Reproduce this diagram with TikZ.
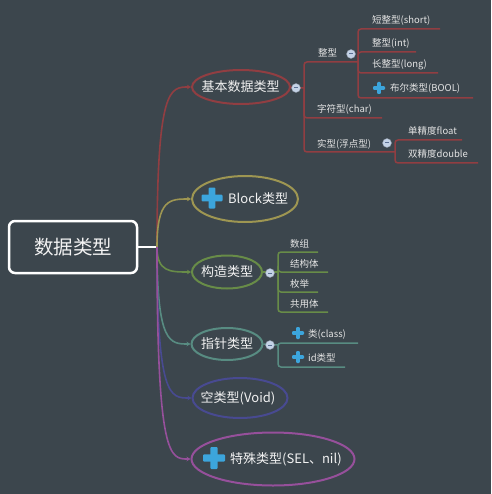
\documentclass[tikz,border=0pt]{standalone}
\usepackage{fontspec}
\setmainfont{Noto Sans CJK SC}
\usetikzlibrary{shapes.geometric,arrows.meta}
\definecolor{bg}{RGB}{60,70,77}
\definecolor{cred}{RGB}{145,62,66}
\definecolor{colive}{RGB}{158,150,82}
\definecolor{cgreen}{RGB}{104,140,72}
\definecolor{cteal}{RGB}{88,140,130}
\definecolor{cindigo}{RGB}{72,74,145}
\definecolor{cpurple}{RGB}{150,80,155}
\definecolor{iconblue}{RGB}{60,165,220}
\definecolor{txt}{RGB}{242,242,242}
\definecolor{subtxt}{RGB}{228,228,228}
\definecolor{colfill}{RGB}{196,210,230}
\definecolor{colminus}{RGB}{90,110,145}
\tikzset{
  topic/.style={draw=#1, line width=2pt, ellipse, inner sep=0pt},
  ttext/.style={text=txt, font=\fontsize{13}{13}\selectfont, inner sep=0pt},
  stext/.style={text=subtxt, font=\fontsize{9.5}{9.5}\selectfont, inner sep=0pt, anchor=base west},
  branch/.style={draw=#1, line width=1.6pt, -{Stealth[length=4pt,width=4.5pt]}},
  subline/.style={draw=#1, line width=1.5pt, rounded corners=3pt},
  collapse/.style={circle, fill=colfill, draw=colfill!70!black, line width=0.4pt, minimum size=9pt, inner sep=0pt,
    path picture={\draw[colminus, line width=1pt] ([xshift=-2pt]path picture bounding box.center) -- ([xshift=2pt]path picture bounding box.center);}},
}
\newcommand\mmplus[3]{%
  \fill[iconblue, rounded corners=1pt] (#1-#3,#2-#3*0.32) rectangle (#1+#3,#2+#3*0.32);
  \fill[iconblue, rounded corners=1pt] (#1-#3*0.32,#2-#3) rectangle (#1+#3*0.32,#2+#3);}
\begin{document}
\begin{tikzpicture}[x=1pt,y=-1pt]
\useasboundingbox (0,0) rectangle (491,494);
\fill[bg] (0,0) rectangle (491,494);

% root
\node[draw=white, line width=2.5pt, rounded corners=6pt, minimum width=128pt, minimum height=52pt,
      text=txt, font=\fontsize{19.5}{19.5}\selectfont] (root) at (73,247) {数据类型};
\coordinate (trunk) at (157,247);
\draw[white, line width=2pt] (root.east) -- (trunk);

% main topics
\node[topic=cred, minimum width=98pt, minimum height=34pt] (jb) at (241,87) {};
\node[ttext] (jbt) at (240.5,87) {基本数据类型};
\node[topic=colive, minimum width=106pt, minimum height=46pt] (blk) at (245,199) {};
\node[ttext, anchor=west] (blkt) at (228,199) {Block类型};
\mmplus{212}{198}{10.5}
\node[topic=cgreen, minimum width=70pt, minimum height=33pt] (gz) at (227,272) {};
\node[ttext] (gzt) at (227,272) {构造类型};
\node[topic=cteal, minimum width=71pt, minimum height=32pt] (zz) at (227,344) {};
\node[ttext] (zzt) at (227,344) {指针类型};
\node[topic=cindigo, minimum width=95pt, minimum height=40pt] (kl) at (240,398) {};
\node[ttext] (klt) at (238,398) {空类型(Void)};
\node[topic=cpurple, minimum width=163pt, minimum height=53pt] (ts) at (273,459) {};
\node[ttext, anchor=west] (tst) at (230,459) {特殊类型(SEL、nil)};
\mmplus{214}{458}{11}

% trunk branches
\draw[branch=cred] (trunk) .. controls (157,87) and (170,87) .. (jb.west);
\draw[branch=colive] (trunk) .. controls (157,199) and (170,199) .. (blk.west);
\draw[branch=cgreen] (trunk) .. controls (157,272) and (170,272) .. (gz.west);
\draw[branch=cteal] (trunk) .. controls (157,344) and (170,344) .. (zz.west);
\draw[branch=cindigo] (trunk) .. controls (157,398) and (170,398) .. (kl.west);
\draw[branch=cpurple] (trunk) .. controls (157,459) and (170,459) .. (ts.west);

% ---- 基本数据类型 subtopics
\coordinate (h1) at (304,88);
\node[stext] (s1) at (318,57) {整型};
\node[stext] (s2) at (317,113) {字符型(char)};
\node[stext] (s3) at (317,148) {实型(浮点型)};
\coordinate (e1) at (358,62);
\coordinate (e2) at (382,118);
\coordinate (e3) at (395,152);
\draw[subline=cred] (h1) |- (e1);
\draw[subline=cred] (h1) |- (e2);
\draw[subline=cred] (h1) |- (e3);

% 整型 children
\coordinate (h11) at (358,62);
\node[stext] (s11) at (372,24) {短整型(short)};
\node[stext] (s12) at (372,46.5) {整型(int)};
\node[stext] (s13) at (372,68) {长整型(long)};
\node[stext] (s14) at (390,92) {布尔类型(BOOL)};
\mmplus{379}{88}{6}
\coordinate (e11) at (440,29);
\coordinate (e12) at (416,52);
\coordinate (e13) at (438,73);
\coordinate (e14) at (473,98);
\draw[subline=cred] (h11) |- (e11);
\draw[subline=cred] (h11) |- (e12);
\draw[subline=cred] (h11) |- (e13);
\draw[subline=cred] (h11) |- (e14);

% 实型 children
\coordinate (h13) at (395,152);
\node[stext] (s31) at (408,135) {单精度float};
\node[stext] (s32) at (408,158) {双精度double};
\coordinate (e31) at (462,140);
\coordinate (e32) at (478,163);
\draw[subline=cred] (h13) |- (e31);
\draw[subline=cred] (h13) |- (e32);

% ---- 构造类型 subtopics
\coordinate (h2) at (278,272);
\node[stext] (g1) at (290,247) {数组};
\node[stext] (g2) at (290,267) {结构体};
\node[stext] (g3) at (290,287) {枚举};
\node[stext] (g4) at (290,307) {共用体};
\coordinate (f1) at (318,252);
\coordinate (f2) at (328,272);
\coordinate (f3) at (318,292);
\coordinate (f4) at (328,312);
\draw[subline=cgreen] (h2) |- (f1);
\draw[subline=cgreen] (h2) |- (f2);
\draw[subline=cgreen] (h2) |- (f3);
\draw[subline=cgreen] (h2) |- (f4);
\draw[subline=cgreen] (gz.east) -- (h2);

% ---- 指针类型 subtopics
\coordinate (h3) at (278,345);
\node[stext] (p1) at (308,337) {类(class)};
\node[stext] (p2) at (308,361) {id类型};
\mmplus{298}{333}{6}
\mmplus{298}{357}{6}
\coordinate (q1) at (358,343);
\coordinate (q2) at (345,367);
\draw[subline=cteal] (h3) |- (q1);
\draw[subline=cteal] (h3) |- (q2);
\draw[subline=cteal] (zz.east) -- (h3);

\draw[subline=cred] (jb.east) -- (h1);

% collapse markers
\node[collapse] (c1) at (296,88) {};
\node[collapse] (c11) at (351,54) {};
\node[collapse] (c13) at (387,143) {};
\node[collapse] (c2) at (270,273) {};
\node[collapse] (c3) at (270,345) {};
\end{tikzpicture}
\end{document}
